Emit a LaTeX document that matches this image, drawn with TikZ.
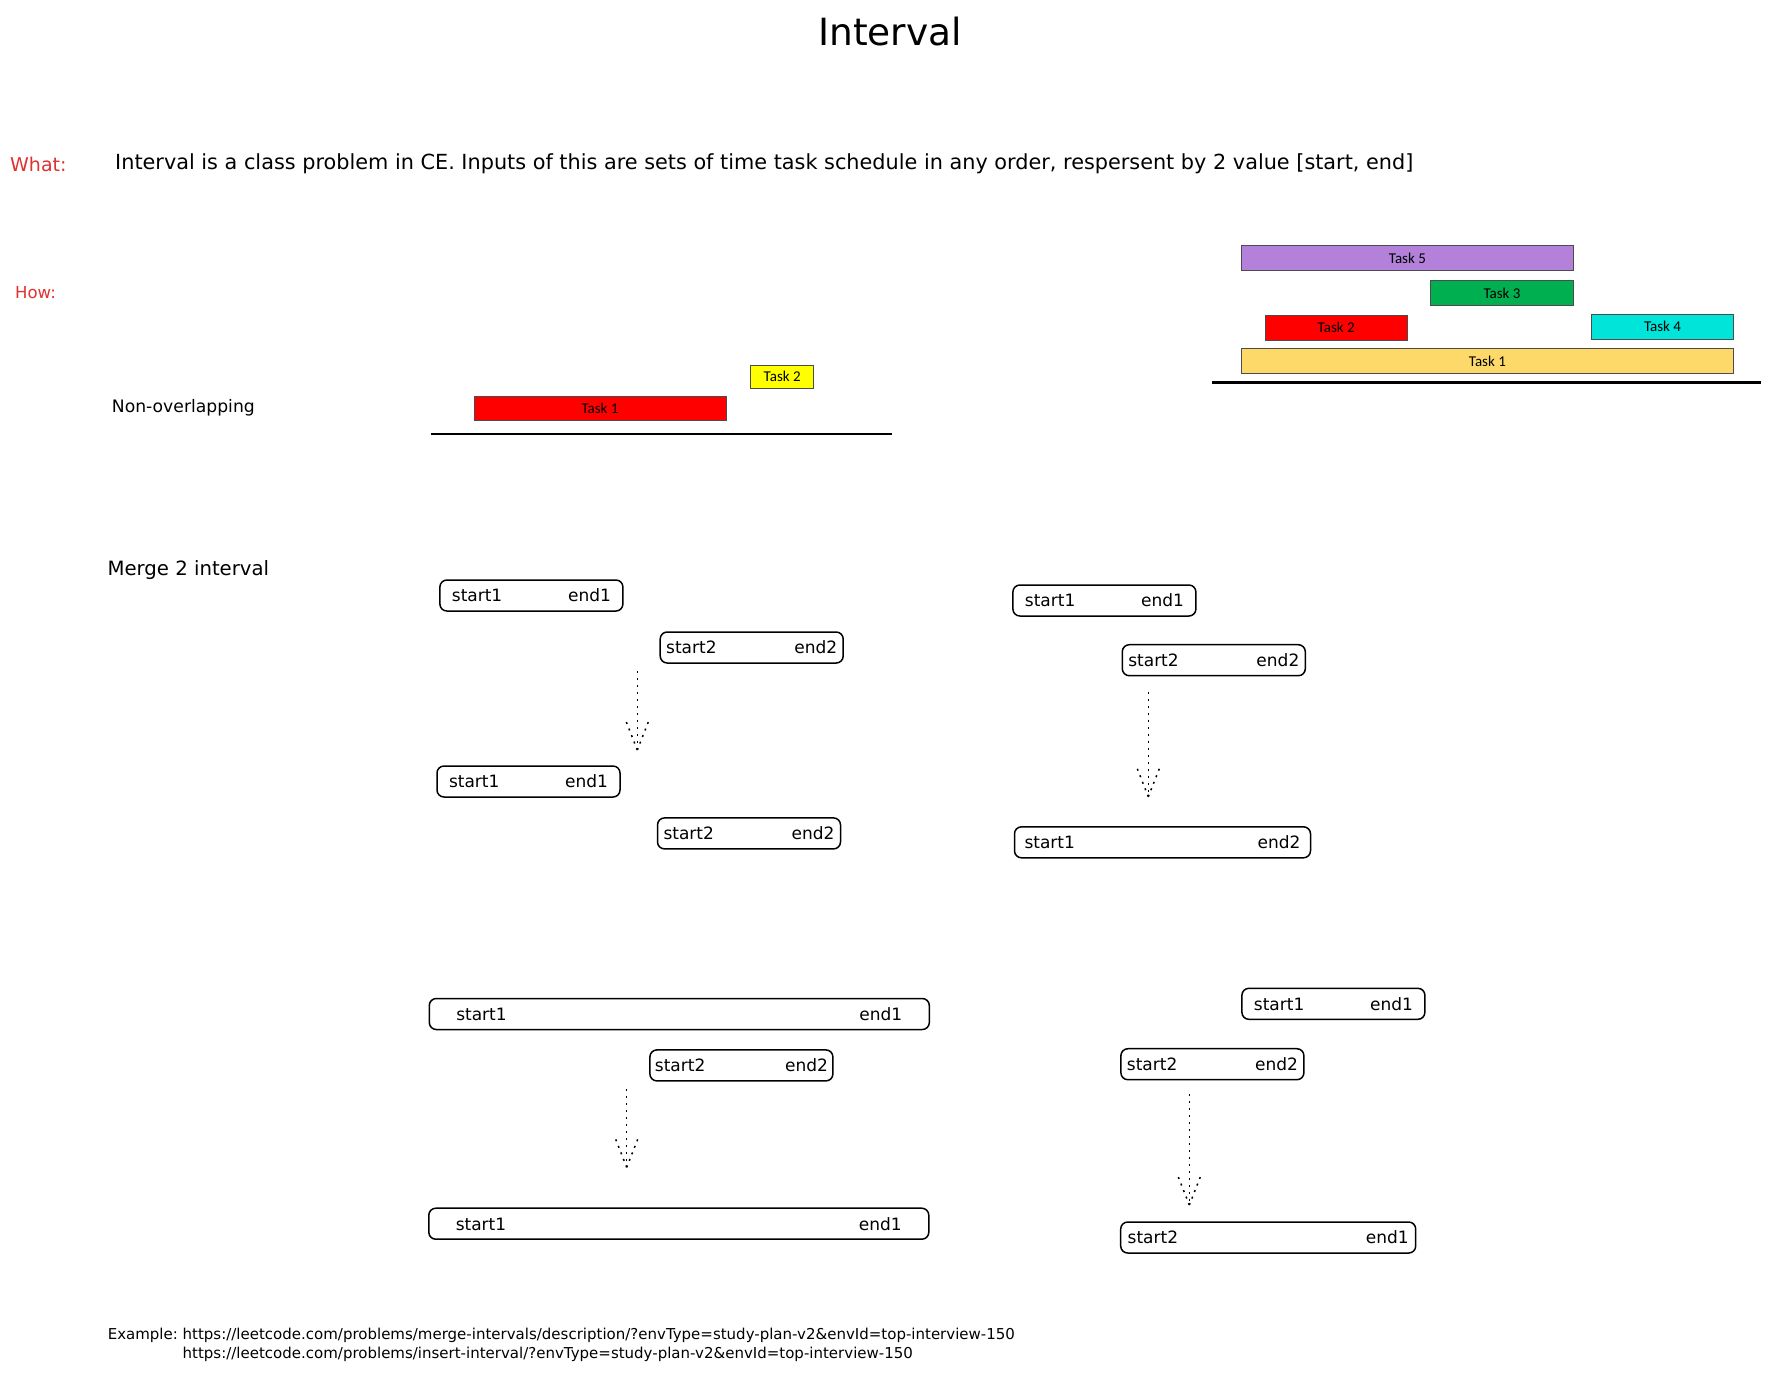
\documentclass[tikz,border=0pt]{standalone}
\usepackage{fontspec}
\setmainfont{DejaVu Sans}
\newfontfamily\taskfont{Carlito}

\definecolor{howred}{RGB}{224,49,49}
\definecolor{taskred}{RGB}{255,0,0}
\definecolor{taskyellow}{RGB}{255,255,0}
\definecolor{taskgold}{RGB}{253,217,106}
\definecolor{taskpurple}{RGB}{179,129,217}
\definecolor{taskgreen}{RGB}{0,176,80}
\definecolor{taskcyan}{RGB}{0,228,218}

% start ... end written across the whole box
\newcommand{\ivltext}[3]{\makebox[#1]{#2\hfill #3}}
\newcommand{\fs}[1]{\fontsize{#1}{1.2\dimexpr#1pt\relax}\selectfont}

\tikzset{
  heading/.style={anchor=base west, inner sep=0pt, font=\fs{19}},
  task/.style={draw=black!70, line width=0.8pt, minimum height=25.5pt, inner sep=0pt,
    font=\taskfont\fs{15}},
  ivl/.style={draw, line width=1.5pt, rounded corners=7pt, minimum height=31pt,
    inner ysep=0pt, font=\fs{17}},
  timeline/.style={line width=2.5pt},
  flow/.style={line width=1.5pt, dash pattern=on 2pt off 5pt}
}

\begin{document}
\begin{tikzpicture}[x=1pt, y=-1pt]
        \useasboundingbox (0,0) rectangle (1776,1374);
        \fill[white] (0,0) rectangle (1776,1374);

        % Titolo e testi
        \node[anchor=base, inner sep=0pt, font=\fs{37.5}] (title) at (890,45) {Interval};
        \node[heading, text=howred] (what) at (10,171.7) {What:};
        \node[heading, font=\fs{20.8}] (whatdesc) at (115,169) {Interval is a class problem in CE. Inputs of this are sets of time task schedule in any order, respersent by 2 value [start, end]};
        \node[heading, text=howred, font=\fs{16.5}] (how) at (15,298.3) {How:};
        \node[heading, font=\fs{17.2}] (nonover) at (111.7,412.3) {Non-overlapping};
        \node[heading, font=\fs{19.7}] (merge) at (107.3,575) {Merge 2 interval};

        % Task che non si sovrappongono
        \node[task, fill=taskred, minimum width=252pt, minimum height=23.3pt] (lt1) at (600,408.4) {Task 1};
        \node[task, fill=taskyellow, minimum width=63pt, minimum height=23.3pt] (lt2) at (782.2,376.7) {Task 2};
        \draw[timeline] (430.7,434) -- (891.7,434);

        % Task che si sovrappongono
        \node[task, fill=taskgold, minimum width=492pt] (rt1) at (1487.4,361) {Task 1};
        \node[task, fill=taskred, minimum width=141.7pt] (rt2) at (1336.2,327.7) {Task 2};
        \node[task, fill=taskgreen, minimum width=142.7pt] (rt3) at (1502,292.9) {Task 3};
        \node[task, fill=taskcyan, minimum width=141.9pt] (rt4) at (1662.5,326.8) {Task 4};
        \node[task, fill=taskpurple, minimum width=331.9pt] (rt5) at (1407.4,257.9) {Task 5};
        \draw[timeline] (1212,382.3) -- (1760.5,382.3);

        % Intervalli separati
        \node[ivl, inner xsep=12pt] (a1) at (531.4,595.5) {\ivltext{159pt}{start1}{end1}};
        \node[ivl, inner xsep=6pt] (a2) at (751.7,647.5) {\ivltext{171pt}{start2}{end2}};
        \node[ivl, inner xsep=12pt] (a3) at (528.5,781.5) {\ivltext{159pt}{start1}{end1}};
        \node[ivl, inner xsep=6pt] (a4) at (749,833.4) {\ivltext{171pt}{start2}{end2}};

        % Intervalli sovrapposti
        \node[ivl, inner xsep=12pt] (b1) at (1104.4,600.5) {\ivltext{159pt}{start1}{end1}};
        \node[ivl, inner xsep=6pt] (b2) at (1213.8,660.2) {\ivltext{171pt}{start2}{end2}};
        \node[ivl, inner xsep=10pt] (b3) at (1162.5,842.3) {\ivltext{276pt}{start1}{end2}};

        % Intervallo contenuto
        \node[ivl, inner xsep=27pt] (c1) at (679.3,1014) {\ivltext{446pt}{start1}{end1}};
        \node[ivl, inner xsep=5pt] (c2) at (741.4,1065.4) {\ivltext{173pt}{start2}{end2}};
        \node[ivl, inner xsep=27pt] (c3) at (678.8,1223.7) {\ivltext{446pt}{start1}{end1}};

        % Intervallo che inizia prima
        \node[ivl, inner xsep=12pt] (d1) at (1333.4,1003.8) {\ivltext{159pt}{start1}{end1}};
        \node[ivl, inner xsep=6pt] (d2) at (1212.4,1064.2) {\ivltext{171pt}{start2}{end2}};
        \node[ivl, inner xsep=7pt] (d3) at (1268.2,1237.5) {\ivltext{281pt}{start2}{end1}};

        % Frecce tratteggiate
        \coordinate (a-top) at (637.3,671);
        \coordinate (a-tip) at (637.3,750);
        \coordinate (b-top) at (1148.3,691.7);
        \coordinate (b-tip) at (1148.3,796.7);
        \coordinate (c-top) at (626.7,1089);
        \coordinate (c-tip) at (626.7,1167.3);
        \coordinate (d-top) at (1189.3,1094);
        \coordinate (d-tip) at (1189.3,1205);
        \foreach \p in {a,b,c,d} {
            \draw[flow] (\p-top) -- (\p-tip);
            \draw[flow] (\p-tip) -- ++(-11,-28);
            \draw[flow] (\p-tip) -- ++(11,-28);
        }

        % Link di esempio
        \node[anchor=base west, inner sep=0pt, font=\fontsize{15}{19.3}\selectfont] (example) at (107.6,1339)
            {\begin{tabular}[t]{@{}l@{\ }l@{}}
             Example: & https://leetcode.com/problems/merge-intervals/description/?envType=study-plan-v2\&envId=top-interview-150\\
                      & https://leetcode.com/problems/insert-interval/?envType=study-plan-v2\&envId=top-interview-150
             \end{tabular}};
\end{tikzpicture}
\end{document}
